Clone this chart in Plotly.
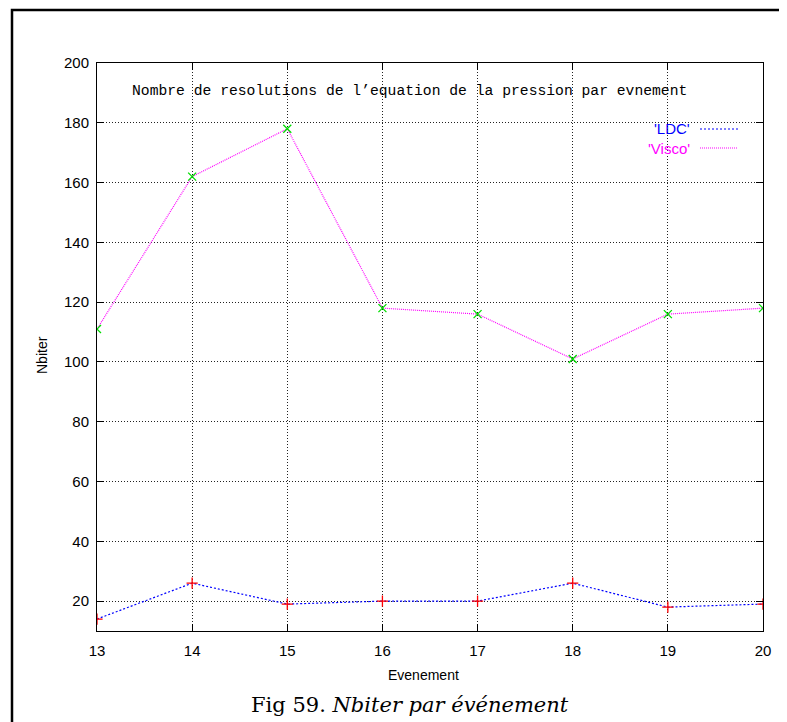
import plotly.graph_objects as go

evenements = [13, 14, 15, 16, 17, 18, 19, 20]
ldc = [14, 26, 19, 20, 20, 26, 18, 19]
visco = [111, 162, 178, 118, 116, 101, 116, 118]
y_ticks = [20, 40, 60, 80, 100, 120, 140, 160, 180, 200]

# the page body has an 8px margin, so the figure starts at (8, 8)
OFF = 8
W, H = 787 - OFF, 722 - OFF
L, R, T, B = 97 - OFF, 787 - 763, 63 - OFF, 722 - 631
PW, PH = W - L - R, H - T - B

_SANS = "Liberation Sans, Arial, sans-serif"
_MONO = "Liberation Mono, Courier New, monospace"
_SERIF = "DejaVu Serif, Liberation Serif, serif"

LDC_DASH = "2px,2px"
VISCO_DASH = "1px,1px"
GRID_DASH = "1px,2px"


def px_x(x):
    """page pixel -> paper x"""
    return (x - OFF - L) / PW


def px_y(y):
    """page pixel -> paper y"""
    return (H - B - (y - OFF)) / PH


fig = go.Figure()
fig.add_trace(go.Scatter(
    x=evenements, y=ldc, mode="lines+markers", name="'LDC'",
    line=dict(color="#0000ff", width=1.2, dash=LDC_DASH),
    marker=dict(symbol="cross-thin", size=8, color="red", line=dict(color="red", width=1.3)),
))
fig.add_trace(go.Scatter(
    x=evenements, y=visco, mode="lines+markers", name="'Visco'",
    line=dict(color="#ff00ff", width=1.2, dash=VISCO_DASH),
    marker=dict(symbol="x-thin", size=8, color="#00dd00", line=dict(color="#00dd00", width=1.3)),
))

fig.update_layout(
    width=W, height=H,
    margin=dict(l=L, r=R, t=T, b=B),
    paper_bgcolor="white", plot_bgcolor="white",
    showlegend=False,
    font=dict(family=_SANS, size=14, color="black"),
)
fig.update_xaxes(
    range=[13, 20], tickvals=evenements, ticks="inside", ticklen=7, tickcolor="black",
    showline=True, linecolor="black", linewidth=1, mirror="allticks",
    showgrid=True, gridcolor="#222", griddash=GRID_DASH, gridwidth=1, zeroline=False,
    tickfont=dict(family=_SANS, size=15), ticklabelstandoff=6,
)
fig.update_yaxes(
    range=[10, 200], tickvals=y_ticks, ticks="inside", ticklen=7, tickcolor="black",
    showline=True, linecolor="black", linewidth=1, mirror="allticks",
    showgrid=True, gridcolor="#222", griddash=GRID_DASH, gridwidth=1, zeroline=False,
    tickfont=dict(family=_SANS, size=15), ticklabelstandoff=4,
)

# outer frame around figure and caption
fig.add_shape(type="rect", xref="paper", yref="paper",
              x0=px_x(12), y0=px_y(800), x1=px_x(800), y1=px_y(10),
              line=dict(color="black", width=2.5), layer="below")

# title inside the plot
fig.add_annotation(text="Nombre de resolutions de l’equation de la pression par evnement",
                   xref="paper", yref="paper", x=px_x(130), y=px_y(91),
                   xanchor="left", yanchor="middle", showarrow=False,
                   font=dict(family=_MONO, size=14.7, color="black"))

# legend, gnuplot style: label then line sample
legend = [("'LDC'", "#0000ff", 129, LDC_DASH), ("'Visco'", "#ff00ff", 148, VISCO_DASH)]
for label, color, ypx, dash in legend:
    fig.add_annotation(text=label, xref="paper", yref="paper", x=px_x(692), y=px_y(ypx),
                       xanchor="right", yanchor="middle", showarrow=False,
                       font=dict(family=_SANS, size=15, color=color))
    fig.add_shape(type="line", xref="paper", yref="paper",
                  x0=px_x(700), x1=px_x(738), y0=px_y(ypx), y1=px_y(ypx),
                  line=dict(color=color, width=1.2, dash=dash))

# axis titles
fig.add_annotation(text="Evenement", xref="paper", yref="paper", x=px_x(423), y=px_y(675),
                   xanchor="center", yanchor="middle", showarrow=False,
                   font=dict(family=_SANS, size=14))
fig.add_annotation(text="Nbiter", xref="paper", yref="paper", x=px_x(42), y=px_y(355),
                   xanchor="center", yanchor="middle", showarrow=False, textangle=-90,
                   font=dict(family=_SANS, size=14))

# caption
fig.add_annotation(text="Fig 59. <i>Nbiter par événement</i>", xref="paper", yref="paper",
                   x=px_x(410), y=px_y(705), xanchor="center", yanchor="middle",
                   showarrow=False, font=dict(family=_SERIF, size=21))

fig.write_html("out.html")
